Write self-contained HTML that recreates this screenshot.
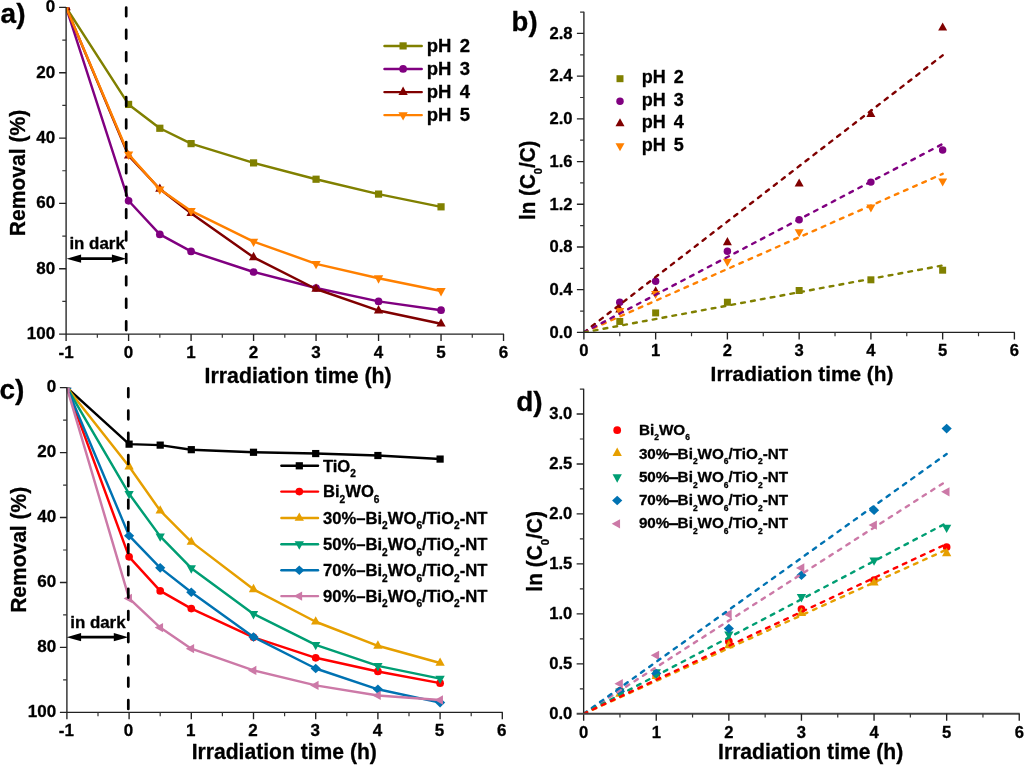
<!DOCTYPE html>
<html><head><meta charset="utf-8"><title>chart</title>
<style>html,body{margin:0;padding:0;background:#fff}svg{display:block;will-change:transform}text{font-family:"Liberation Sans",sans-serif;font-weight:bold;fill:#000;stroke:#000;stroke-width:0.3px;stroke-linejoin:round}</style>
</head><body>
<svg width="1024" height="765" viewBox="0 0 1024 765">
<rect width="1024" height="765" fill="#fff"/>
<g id="pa">
<clipPath id="ca"><rect x="66.1" y="7.4" width="457.43" height="326.66"/></clipPath>
<g clip-path="url(#ca)">
<polyline points="66.1,7.4 128.59,104.42 159.83,128.26 191.08,143.62 253.57,162.89 316.06,179.22 378.55,194.09 441.04,206.83" fill="none" stroke="#808000" stroke-width="2.45" stroke-linejoin="round" stroke-linecap="round"/>
<rect x="62.5" y="3.8" width="7.2" height="7.2" fill="#808000"/>
<rect x="124.99" y="100.82" width="7.2" height="7.2" fill="#808000"/>
<rect x="156.23" y="124.66" width="7.2" height="7.2" fill="#808000"/>
<rect x="187.48" y="140.02" width="7.2" height="7.2" fill="#808000"/>
<rect x="249.97" y="159.29" width="7.2" height="7.2" fill="#808000"/>
<rect x="312.46" y="175.62" width="7.2" height="7.2" fill="#808000"/>
<rect x="374.95" y="190.49" width="7.2" height="7.2" fill="#808000"/>
<rect x="437.44" y="203.23" width="7.2" height="7.2" fill="#808000"/>
<polyline points="66.1,7.4 128.59,200.78 159.83,234.43 191.08,251.42 253.57,271.99 316.06,288 378.55,301.39 441.04,310.21" fill="none" stroke="#800080" stroke-width="2.45" stroke-linejoin="round" stroke-linecap="round"/>
<circle cx="66.1" cy="7.4" r="3.85" fill="#800080"/>
<circle cx="128.59" cy="200.78" r="3.85" fill="#800080"/>
<circle cx="159.83" cy="234.43" r="3.85" fill="#800080"/>
<circle cx="191.08" cy="251.42" r="3.85" fill="#800080"/>
<circle cx="253.57" cy="271.99" r="3.85" fill="#800080"/>
<circle cx="316.06" cy="288" r="3.85" fill="#800080"/>
<circle cx="378.55" cy="301.39" r="3.85" fill="#800080"/>
<circle cx="441.04" cy="310.21" r="3.85" fill="#800080"/>
<polyline points="66.1,7.4 128.59,155.7 159.83,189.02 191.08,213.2 253.57,257.29 316.06,288.98 378.55,310.54 441.04,323.77" fill="none" stroke="#800000" stroke-width="2.45" stroke-linejoin="round" stroke-linecap="round"/>
<path d="M66.1 1.9L70.75 10.25L61.45 10.25Z" fill="#800000"/>
<path d="M128.59 150.2L133.24 158.55L123.94 158.55Z" fill="#800000"/>
<path d="M159.83 183.52L164.48 191.87L155.18 191.87Z" fill="#800000"/>
<path d="M191.08 207.7L195.73 216.05L186.43 216.05Z" fill="#800000"/>
<path d="M253.57 251.79L258.22 260.14L248.92 260.14Z" fill="#800000"/>
<path d="M316.06 283.48L320.71 291.83L311.41 291.83Z" fill="#800000"/>
<path d="M378.55 305.04L383.2 313.39L373.9 313.39Z" fill="#800000"/>
<path d="M441.04 318.27L445.69 326.62L436.39 326.62Z" fill="#800000"/>
<polyline points="66.1,7.4 128.59,154.4 159.83,189.35 191.08,210.91 253.57,241.62 316.06,263.83 378.55,278.2 441.04,290.94" fill="none" stroke="#FF8000" stroke-width="2.45" stroke-linejoin="round" stroke-linecap="round"/>
<path d="M66.1 12.9L70.75 4.55L61.45 4.55Z" fill="#FF8000"/>
<path d="M128.59 159.9L133.24 151.55L123.94 151.55Z" fill="#FF8000"/>
<path d="M159.83 194.85L164.48 186.5L155.18 186.5Z" fill="#FF8000"/>
<path d="M191.08 216.41L195.73 208.06L186.43 208.06Z" fill="#FF8000"/>
<path d="M253.57 247.12L258.22 238.77L248.92 238.77Z" fill="#FF8000"/>
<path d="M316.06 269.33L320.71 260.98L311.41 260.98Z" fill="#FF8000"/>
<path d="M378.55 283.7L383.2 275.35L373.9 275.35Z" fill="#FF8000"/>
<path d="M441.04 296.44L445.69 288.09L436.39 288.09Z" fill="#FF8000"/>
</g>
<path d="M66.1 7V341.06" fill="none" stroke="#222" stroke-width="1.35"/>
<path d="M59.1 334.06H504.03" fill="none" stroke="#222" stroke-width="1.35"/>
<path d="M128.59 334.06v7M191.08 334.06v7M253.57 334.06v7M316.06 334.06v7M378.55 334.06v7M441.04 334.06v7M503.53 334.06v7M66.1 7.4h-7M66.1 72.73h-7M66.1 138.06h-7M66.1 203.4h-7M66.1 268.73h-7" fill="none" stroke="#222" stroke-width="1.35"/>
<path d="M97.34 334.06v3.8M159.83 334.06v3.8M222.32 334.06v3.8M284.81 334.06v3.8M347.3 334.06v3.8M409.79 334.06v3.8M472.28 334.06v3.8M66.1 40.07h-3.8M66.1 105.4h-3.8M66.1 170.73h-3.8M66.1 236.06h-3.8M66.1 301.39h-3.8" fill="none" stroke="#333" stroke-width="1.2"/>
<text x="66.1" y="357.76" font-size="17" text-anchor="middle" >-1</text>
<text x="128.59" y="357.76" font-size="17" text-anchor="middle" >0</text>
<text x="191.08" y="357.76" font-size="17" text-anchor="middle" >1</text>
<text x="253.57" y="357.76" font-size="17" text-anchor="middle" >2</text>
<text x="316.06" y="357.76" font-size="17" text-anchor="middle" >3</text>
<text x="378.55" y="357.76" font-size="17" text-anchor="middle" >4</text>
<text x="441.04" y="357.76" font-size="17" text-anchor="middle" >5</text>
<text x="503.53" y="357.76" font-size="17" text-anchor="middle" >6</text>
<text x="55.1" y="12.2" font-size="17" text-anchor="end" >0</text>
<text x="55.1" y="77.53" font-size="17" text-anchor="end" >20</text>
<text x="55.1" y="142.86" font-size="17" text-anchor="end" >40</text>
<text x="55.1" y="208.2" font-size="17" text-anchor="end" >60</text>
<text x="55.1" y="273.53" font-size="17" text-anchor="end" >80</text>
<text x="55.1" y="338.86" font-size="17" text-anchor="end" >100</text>
<path d="M126.2 7.5V334.06" stroke="#000" stroke-width="2.7" stroke-dasharray="8.7 13.72" stroke-linecap="round" fill="none"/>
<path d="M384.5 45.9H421.7" stroke="#808000" stroke-width="2.45" stroke-linecap="round"/>
<rect x="399.5" y="42.3" width="7.2" height="7.2" fill="#808000"/>
<text x="426.7" y="52.1" font-size="18.5" text-anchor="start" >pH</text>
<text x="465" y="52.1" font-size="18.5" text-anchor="middle" >2</text>
<path d="M384.5 68.9H421.7" stroke="#800080" stroke-width="2.45" stroke-linecap="round"/>
<circle cx="403.1" cy="68.9" r="3.85" fill="#800080"/>
<text x="426.7" y="75.1" font-size="18.5" text-anchor="start" >pH</text>
<text x="465" y="75.1" font-size="18.5" text-anchor="middle" >3</text>
<path d="M384.5 92.1H421.7" stroke="#800000" stroke-width="2.45" stroke-linecap="round"/>
<path d="M403.1 86.6L407.75 94.95L398.45 94.95Z" fill="#800000"/>
<text x="426.7" y="98.3" font-size="18.5" text-anchor="start" >pH</text>
<text x="465" y="98.3" font-size="18.5" text-anchor="middle" >4</text>
<path d="M384.5 115.1H421.7" stroke="#FF8000" stroke-width="2.45" stroke-linecap="round"/>
<path d="M403.1 120.6L407.75 112.25L398.45 112.25Z" fill="#FF8000"/>
<text x="426.7" y="121.3" font-size="18.5" text-anchor="start" >pH</text>
<text x="465" y="121.3" font-size="18.5" text-anchor="middle" >5</text>
<path d="M74.6 258.7H118.4" stroke="#000" stroke-width="2.7" fill="none"/><path d="M66.6 258.7l14.5 -4.1v8.2zM126.4 258.7l-14.5 -4.1v8.2z" fill="#000"/><text x="69.4" y="248.5" font-size="15.8" text-anchor="start" textLength="55.4" lengthAdjust="spacingAndGlyphs">in dark</text>
<text x="298.1" y="383" font-size="21.5" text-anchor="middle" textLength="187" lengthAdjust="spacingAndGlyphs">Irradiation time (h)</text>
<text transform="translate(25.2 173) rotate(-90)" font-size="21.5" text-anchor="middle" textLength="126.3" lengthAdjust="spacingAndGlyphs">Removal (%)</text>
<text x="0.6" y="22.8" font-size="28" text-anchor="start" >a)</text>
</g>
<g id="pb">
<clipPath id="cb"><rect x="583.9" y="12.09" width="450.5" height="320.31"/></clipPath>
<g clip-path="url(#cb)">
<rect x="616.28" y="317.96" width="6.98" height="6.98" fill="#808000"/>
<rect x="652.16" y="309.42" width="6.98" height="6.98" fill="#808000"/>
<rect x="723.91" y="298.74" width="6.98" height="6.98" fill="#808000"/>
<rect x="795.66" y="287" width="6.98" height="6.98" fill="#808000"/>
<rect x="867.41" y="276.32" width="6.98" height="6.98" fill="#808000"/>
<rect x="939.16" y="266.71" width="6.98" height="6.98" fill="#808000"/>
<circle cx="619.77" cy="302.24" r="3.73" fill="#800080"/>
<circle cx="655.65" cy="281.31" r="3.73" fill="#800080"/>
<circle cx="727.4" cy="251.31" r="3.73" fill="#800080"/>
<circle cx="799.15" cy="219.7" r="3.73" fill="#800080"/>
<circle cx="870.9" cy="182.12" r="3.73" fill="#800080"/>
<circle cx="942.65" cy="150.09" r="3.73" fill="#800080"/>
<path d="M619.77 304.38L624.29 312.48L615.26 312.48Z" fill="#800000"/>
<path d="M655.65 286.22L660.16 294.32L651.14 294.32Z" fill="#800000"/>
<path d="M727.4 237.11L731.91 245.21L722.89 245.21Z" fill="#800000"/>
<path d="M799.15 178.39L803.66 186.49L794.64 186.49Z" fill="#800000"/>
<path d="M870.9 108.99L875.41 117.09L866.39 117.09Z" fill="#800000"/>
<path d="M942.65 22.5L947.16 30.6L938.14 30.6Z" fill="#800000"/>
<path d="M619.77 316.11L624.29 308.01L615.26 308.01Z" fill="#FF8000"/>
<path d="M655.65 299.03L660.16 290.93L651.14 290.93Z" fill="#FF8000"/>
<path d="M727.4 266.79L731.91 258.69L722.89 258.69Z" fill="#FF8000"/>
<path d="M799.15 237.32L803.66 229.22L794.64 229.22Z" fill="#FF8000"/>
<path d="M870.9 212.55L875.41 204.45L866.39 204.45Z" fill="#FF8000"/>
<path d="M942.65 186.49L947.16 178.4L938.14 178.4Z" fill="#FF8000"/>
<path d="M583.9 332.4L942.65 173.85" stroke="#FF8000" stroke-width="2.4" stroke-dasharray="3.8 6.2" stroke-linecap="round" fill="none"/>
<path d="M583.9 332.4L942.65 55.33" stroke="#800000" stroke-width="2.4" stroke-dasharray="3.8 6.2" stroke-linecap="round" fill="none"/>
<path d="M583.9 332.4L942.65 143.95" stroke="#800080" stroke-width="2.4" stroke-dasharray="3.8 6.2" stroke-linecap="round" fill="none"/>
<path d="M583.9 332.4L942.65 265.46" stroke="#808000" stroke-width="2.4" stroke-dasharray="3.8 6.2" stroke-linecap="round" fill="none"/>
</g>
<path d="M583.9 11.69V339.4" fill="none" stroke="#222" stroke-width="1.35"/>
<path d="M576.9 332.4H1014.9" fill="none" stroke="#222" stroke-width="1.35"/>
<path d="M655.65 332.4v7M727.4 332.4v7M799.15 332.4v7M870.9 332.4v7M942.65 332.4v7M1014.4 332.4v7M583.9 289.69h-7M583.9 246.98h-7M583.9 204.28h-7M583.9 161.57h-7M583.9 118.86h-7M583.9 76.15h-7M583.9 33.44h-7" fill="none" stroke="#222" stroke-width="1.35"/>
<path d="M619.77 332.4v3.8M691.52 332.4v3.8M763.27 332.4v3.8M835.02 332.4v3.8M906.77 332.4v3.8M978.52 332.4v3.8M583.9 311.05h-3.8M583.9 268.34h-3.8M583.9 225.63h-3.8M583.9 182.92h-3.8M583.9 140.21h-3.8M583.9 97.51h-3.8M583.9 54.8h-3.8M583.9 12.09h-3.8" fill="none" stroke="#333" stroke-width="1.2"/>
<text x="583.9" y="356.1" font-size="16.6" text-anchor="middle" >0</text>
<text x="655.65" y="356.1" font-size="16.6" text-anchor="middle" >1</text>
<text x="727.4" y="356.1" font-size="16.6" text-anchor="middle" >2</text>
<text x="799.15" y="356.1" font-size="16.6" text-anchor="middle" >3</text>
<text x="870.9" y="356.1" font-size="16.6" text-anchor="middle" >4</text>
<text x="942.65" y="356.1" font-size="16.6" text-anchor="middle" >5</text>
<text x="1014.4" y="356.1" font-size="16.6" text-anchor="middle" >6</text>
<text x="572.5" y="337.7" font-size="16.6" text-anchor="end" >0.0</text>
<text x="572.5" y="294.99" font-size="16.6" text-anchor="end" >0.4</text>
<text x="572.5" y="252.28" font-size="16.6" text-anchor="end" >0.8</text>
<text x="572.5" y="209.58" font-size="16.6" text-anchor="end" >1.2</text>
<text x="572.5" y="166.87" font-size="16.6" text-anchor="end" >1.6</text>
<text x="572.5" y="124.16" font-size="16.6" text-anchor="end" >2.0</text>
<text x="572.5" y="81.45" font-size="16.6" text-anchor="end" >2.4</text>
<text x="572.5" y="38.74" font-size="16.6" text-anchor="end" >2.8</text>
<rect x="616.51" y="75.21" width="6.98" height="6.98" fill="#808000"/>
<text x="641.8" y="83.2" font-size="18" text-anchor="start" >pH</text>
<text x="678.7" y="83.2" font-size="18" text-anchor="middle" >2</text>
<circle cx="620" cy="101.2" r="3.73" fill="#800080"/>
<text x="641.8" y="105.7" font-size="18" text-anchor="start" >pH</text>
<text x="678.7" y="105.7" font-size="18" text-anchor="middle" >3</text>
<path d="M620 118.17L624.51 126.26L615.49 126.26Z" fill="#800000"/>
<text x="641.8" y="128" font-size="18" text-anchor="start" >pH</text>
<text x="678.7" y="128" font-size="18" text-anchor="middle" >4</text>
<path d="M620 151.34L624.51 143.24L615.49 143.24Z" fill="#FF8000"/>
<text x="641.8" y="150.5" font-size="18" text-anchor="start" >pH</text>
<text x="678.7" y="150.5" font-size="18" text-anchor="middle" >5</text>
<text x="802" y="380.7" font-size="21" text-anchor="middle" textLength="182.8" lengthAdjust="spacingAndGlyphs">Irradiation time (h)</text>
<text transform="translate(535.0 180.3) rotate(-90)" font-size="21.5" text-anchor="middle" textLength="79.5" lengthAdjust="spacingAndGlyphs">ln (C<tspan font-size="11.5" dy="7.0">0</tspan><tspan dy="-7.0">/C)</tspan></text>
<text x="511.6" y="30.7" font-size="27.5" text-anchor="start" >b)</text>
</g>
<g id="pc">
<clipPath id="cc"><rect x="66.9" y="387.65" width="455.4" height="324.7"/></clipPath>
<g clip-path="url(#cc)">
<polyline points="66.9,387.65 129.1,444.15 160.2,445.12 191.3,449.67 253.5,452.27 315.7,453.56 377.9,455.51 440.1,459.08" fill="none" stroke="#000000" stroke-width="2.45" stroke-linejoin="round" stroke-linecap="round"/>
<rect x="63.3" y="384.05" width="7.2" height="7.2" fill="#000000"/>
<rect x="125.5" y="440.55" width="7.2" height="7.2" fill="#000000"/>
<rect x="156.6" y="441.52" width="7.2" height="7.2" fill="#000000"/>
<rect x="187.7" y="446.07" width="7.2" height="7.2" fill="#000000"/>
<rect x="249.9" y="448.67" width="7.2" height="7.2" fill="#000000"/>
<rect x="312.1" y="449.96" width="7.2" height="7.2" fill="#000000"/>
<rect x="374.3" y="451.91" width="7.2" height="7.2" fill="#000000"/>
<rect x="436.5" y="455.48" width="7.2" height="7.2" fill="#000000"/>
<polyline points="66.9,387.65 129.1,556.82 160.2,590.91 191.3,608.61 253.5,637.34 315.7,657.8 377.9,671.44 440.1,683.13" fill="none" stroke="#FF0000" stroke-width="2.45" stroke-linejoin="round" stroke-linecap="round"/>
<circle cx="66.9" cy="387.65" r="3.85" fill="#FF0000"/>
<circle cx="129.1" cy="556.82" r="3.85" fill="#FF0000"/>
<circle cx="160.2" cy="590.91" r="3.85" fill="#FF0000"/>
<circle cx="191.3" cy="608.61" r="3.85" fill="#FF0000"/>
<circle cx="253.5" cy="637.34" r="3.85" fill="#FF0000"/>
<circle cx="315.7" cy="657.8" r="3.85" fill="#FF0000"/>
<circle cx="377.9" cy="671.44" r="3.85" fill="#FF0000"/>
<circle cx="440.1" cy="683.13" r="3.85" fill="#FF0000"/>
<polyline points="66.9,387.65 129.1,466.55 160.2,510.71 191.3,541.88 253.5,589.29 315.7,621.76 377.9,645.79 440.1,663" fill="none" stroke="#E69F00" stroke-width="2.45" stroke-linejoin="round" stroke-linecap="round"/>
<path d="M66.9 382.15L71.55 390.5L62.25 390.5Z" fill="#E69F00"/>
<path d="M129.1 461.05L133.75 469.4L124.45 469.4Z" fill="#E69F00"/>
<path d="M160.2 505.21L164.85 513.56L155.55 513.56Z" fill="#E69F00"/>
<path d="M191.3 536.38L195.95 544.73L186.65 544.73Z" fill="#E69F00"/>
<path d="M253.5 583.79L258.15 592.14L248.85 592.14Z" fill="#E69F00"/>
<path d="M315.7 616.26L320.35 624.61L311.05 624.61Z" fill="#E69F00"/>
<path d="M377.9 640.29L382.55 648.64L373.25 648.64Z" fill="#E69F00"/>
<path d="M440.1 657.5L444.75 665.85L435.45 665.85Z" fill="#E69F00"/>
<polyline points="66.9,387.65 129.1,493.83 160.2,536.36 191.3,568.18 253.5,613.97 315.7,644.81 377.9,665.92 440.1,678.58" fill="none" stroke="#009E73" stroke-width="2.45" stroke-linejoin="round" stroke-linecap="round"/>
<path d="M66.9 393.15L71.55 384.8L62.25 384.8Z" fill="#009E73"/>
<path d="M129.1 499.33L133.75 490.98L124.45 490.98Z" fill="#009E73"/>
<path d="M160.2 541.86L164.85 533.51L155.55 533.51Z" fill="#009E73"/>
<path d="M191.3 573.68L195.95 565.33L186.65 565.33Z" fill="#009E73"/>
<path d="M253.5 619.47L258.15 611.12L248.85 611.12Z" fill="#009E73"/>
<path d="M315.7 650.31L320.35 641.96L311.05 641.96Z" fill="#009E73"/>
<path d="M377.9 671.42L382.55 663.07L373.25 663.07Z" fill="#009E73"/>
<path d="M440.1 684.08L444.75 675.73L435.45 675.73Z" fill="#009E73"/>
<polyline points="66.9,387.65 129.1,535.71 160.2,567.86 191.3,592.21 253.5,637.02 315.7,668.52 377.9,689.3 440.1,702.61" fill="none" stroke="#0072B2" stroke-width="2.45" stroke-linejoin="round" stroke-linecap="round"/>
<path d="M66.9 382.85L72 387.65L66.9 392.45L61.8 387.65Z" fill="#0072B2"/>
<path d="M129.1 530.91L134.2 535.71L129.1 540.51L124 535.71Z" fill="#0072B2"/>
<path d="M160.2 563.06L165.3 567.86L160.2 572.66L155.1 567.86Z" fill="#0072B2"/>
<path d="M191.3 587.41L196.4 592.21L191.3 597.01L186.2 592.21Z" fill="#0072B2"/>
<path d="M253.5 632.22L258.6 637.02L253.5 641.82L248.4 637.02Z" fill="#0072B2"/>
<path d="M315.7 663.72L320.8 668.52L315.7 673.32L310.6 668.52Z" fill="#0072B2"/>
<path d="M377.9 684.5L383 689.3L377.9 694.1L372.8 689.3Z" fill="#0072B2"/>
<path d="M440.1 697.81L445.2 702.61L440.1 707.41L435 702.61Z" fill="#0072B2"/>
<polyline points="66.9,387.65 129.1,598.38 160.2,627.6 191.3,648.71 253.5,670.46 315.7,685.4 377.9,695.47 440.1,700.01" fill="none" stroke="#CC79A7" stroke-width="2.45" stroke-linejoin="round" stroke-linecap="round"/>
<path d="M61.4 387.65L69.75 383L69.75 392.3Z" fill="#CC79A7"/>
<path d="M123.6 598.38L131.95 593.73L131.95 603.03Z" fill="#CC79A7"/>
<path d="M154.7 627.6L163.05 622.95L163.05 632.25Z" fill="#CC79A7"/>
<path d="M185.8 648.71L194.15 644.06L194.15 653.36Z" fill="#CC79A7"/>
<path d="M248 670.46L256.35 665.81L256.35 675.11Z" fill="#CC79A7"/>
<path d="M310.2 685.4L318.55 680.75L318.55 690.05Z" fill="#CC79A7"/>
<path d="M372.4 695.47L380.75 690.82L380.75 700.12Z" fill="#CC79A7"/>
<path d="M434.6 700.01L442.95 695.36L442.95 704.66Z" fill="#CC79A7"/>
</g>
<path d="M66.9 387.25V719.35" fill="none" stroke="#222" stroke-width="1.35"/>
<path d="M59.9 712.35H502.8" fill="none" stroke="#222" stroke-width="1.35"/>
<path d="M129.1 712.35v7M191.3 712.35v7M253.5 712.35v7M315.7 712.35v7M377.9 712.35v7M440.1 712.35v7M502.3 712.35v7M66.9 387.65h-7M66.9 452.59h-7M66.9 517.53h-7M66.9 582.47h-7M66.9 647.41h-7" fill="none" stroke="#222" stroke-width="1.35"/>
<path d="M98 712.35v3.8M160.2 712.35v3.8M222.4 712.35v3.8M284.6 712.35v3.8M346.8 712.35v3.8M409 712.35v3.8M471.2 712.35v3.8M66.9 420.12h-3.8M66.9 485.06h-3.8M66.9 550h-3.8M66.9 614.94h-3.8M66.9 679.88h-3.8" fill="none" stroke="#333" stroke-width="1.2"/>
<text x="66.4" y="736.05" font-size="17" text-anchor="middle" >-1</text>
<text x="128.6" y="736.05" font-size="17" text-anchor="middle" >0</text>
<text x="190.8" y="736.05" font-size="17" text-anchor="middle" >1</text>
<text x="253" y="736.05" font-size="17" text-anchor="middle" >2</text>
<text x="315.2" y="736.05" font-size="17" text-anchor="middle" >3</text>
<text x="377.4" y="736.05" font-size="17" text-anchor="middle" >4</text>
<text x="439.6" y="736.05" font-size="17" text-anchor="middle" >5</text>
<text x="501.8" y="736.05" font-size="17" text-anchor="middle" >6</text>
<text x="56.2" y="392.45" font-size="17" text-anchor="end" >0</text>
<text x="56.2" y="457.39" font-size="17" text-anchor="end" >20</text>
<text x="56.2" y="522.33" font-size="17" text-anchor="end" >40</text>
<text x="56.2" y="587.27" font-size="17" text-anchor="end" >60</text>
<text x="56.2" y="652.21" font-size="17" text-anchor="end" >80</text>
<text x="56.2" y="717.15" font-size="17" text-anchor="end" >100</text>
<path d="M128.3 388.4V712.35" stroke="#000" stroke-width="2.7" stroke-dasharray="8.7 13.57" stroke-linecap="round" fill="none"/>
<path d="M281.4 465.8H318" stroke="#000000" stroke-width="2.45" stroke-linecap="round"/>
<rect x="295.7" y="462.2" width="7.2" height="7.2" fill="#000000"/>
<text x="322.9" y="471.6" font-size="16.4" text-anchor="start" textLength="33" lengthAdjust="spacingAndGlyphs">TiO<tspan font-size="10" dy="5.5">2</tspan></text>
<path d="M281.4 491.6H318" stroke="#FF0000" stroke-width="2.45" stroke-linecap="round"/>
<circle cx="299.3" cy="491.6" r="3.85" fill="#FF0000"/>
<text x="322.9" y="497.4" font-size="16.4" text-anchor="start" textLength="56.6" lengthAdjust="spacingAndGlyphs">Bi<tspan font-size="10" dy="5.5">2</tspan><tspan dy="-5.5">WO</tspan><tspan font-size="10" dy="5.5">6</tspan></text>
<path d="M281.4 517.9H318" stroke="#E69F00" stroke-width="2.45" stroke-linecap="round"/>
<path d="M299.3 512.4L303.95 520.75L294.65 520.75Z" fill="#E69F00"/>
<text x="322.9" y="523.7" font-size="16.4" text-anchor="start" textLength="164.6" lengthAdjust="spacingAndGlyphs">30%–Bi<tspan font-size="10" dy="5.5">2</tspan><tspan dy="-5.5">WO</tspan><tspan font-size="10" dy="5.5">6</tspan><tspan dy="-5.5">/TiO</tspan><tspan font-size="10" dy="5.5">2</tspan><tspan dy="-5.5">-NT</tspan></text>
<path d="M281.4 544.2H318" stroke="#009E73" stroke-width="2.45" stroke-linecap="round"/>
<path d="M299.3 549.7L303.95 541.35L294.65 541.35Z" fill="#009E73"/>
<text x="322.9" y="550" font-size="16.4" text-anchor="start" textLength="164.6" lengthAdjust="spacingAndGlyphs">50%–Bi<tspan font-size="10" dy="5.5">2</tspan><tspan dy="-5.5">WO</tspan><tspan font-size="10" dy="5.5">6</tspan><tspan dy="-5.5">/TiO</tspan><tspan font-size="10" dy="5.5">2</tspan><tspan dy="-5.5">-NT</tspan></text>
<path d="M281.4 570.2H318" stroke="#0072B2" stroke-width="2.45" stroke-linecap="round"/>
<path d="M299.3 565.4L304.4 570.2L299.3 575L294.2 570.2Z" fill="#0072B2"/>
<text x="322.9" y="576" font-size="16.4" text-anchor="start" textLength="164.6" lengthAdjust="spacingAndGlyphs">70%–Bi<tspan font-size="10" dy="5.5">2</tspan><tspan dy="-5.5">WO</tspan><tspan font-size="10" dy="5.5">6</tspan><tspan dy="-5.5">/TiO</tspan><tspan font-size="10" dy="5.5">2</tspan><tspan dy="-5.5">-NT</tspan></text>
<path d="M281.4 596.1H318" stroke="#CC79A7" stroke-width="2.45" stroke-linecap="round"/>
<path d="M293.8 596.1L302.15 591.45L302.15 600.75Z" fill="#CC79A7"/>
<text x="322.9" y="601.9" font-size="16.4" text-anchor="start" textLength="164.6" lengthAdjust="spacingAndGlyphs">90%–Bi<tspan font-size="10" dy="5.5">2</tspan><tspan dy="-5.5">WO</tspan><tspan font-size="10" dy="5.5">6</tspan><tspan dy="-5.5">/TiO</tspan><tspan font-size="10" dy="5.5">2</tspan><tspan dy="-5.5">-NT</tspan></text>
<path d="M74.6 637.2H120.3" stroke="#000" stroke-width="2.7" fill="none"/><path d="M66.6 637.2l14.5 -4.1v8.2zM128.3 637.2l-14.5 -4.1v8.2z" fill="#000"/><text x="70.2" y="627.5" font-size="15.8" text-anchor="start" textLength="55.4" lengthAdjust="spacingAndGlyphs">in dark</text>
<text x="284.3" y="758.5" font-size="21.2" text-anchor="middle" textLength="185.2" lengthAdjust="spacingAndGlyphs">Irradiation time (h)</text>
<text transform="translate(25.5 549.8) rotate(-90)" font-size="21.5" text-anchor="middle" textLength="126" lengthAdjust="spacingAndGlyphs">Removal (%)</text>
<text x="-0.5" y="399.2" font-size="28" text-anchor="start" >c)</text>
</g>
<g id="pd">
<clipPath id="cd"><rect x="583.65" y="389.03" width="455.6" height="324.77"/></clipPath>
<g clip-path="url(#cd)">
<circle cx="619.95" cy="690.82" r="3.85" fill="#FF0000"/>
<circle cx="656.25" cy="675.63" r="3.85" fill="#FF0000"/>
<circle cx="728.85" cy="641.4" r="3.85" fill="#FF0000"/>
<circle cx="801.45" cy="609.07" r="3.85" fill="#FF0000"/>
<circle cx="874.05" cy="580.19" r="3.85" fill="#FF0000"/>
<circle cx="946.65" cy="547.06" r="3.85" fill="#FF0000"/>
<path d="M619.95 688.31L624.6 696.66L615.3 696.66Z" fill="#E69F00"/>
<path d="M656.25 670.73L660.9 679.08L651.6 679.08Z" fill="#E69F00"/>
<path d="M728.85 639.85L733.5 648.2L724.2 648.2Z" fill="#E69F00"/>
<path d="M801.45 607.57L806.1 615.92L796.8 615.92Z" fill="#E69F00"/>
<path d="M874.05 577.19L878.7 585.54L869.4 585.54Z" fill="#E69F00"/>
<path d="M946.65 547.81L951.3 556.16L942 556.16Z" fill="#E69F00"/>
<path d="M619.95 696.82L624.6 688.47L615.3 688.47Z" fill="#009E73"/>
<path d="M656.25 677.53L660.9 669.18L651.6 669.18Z" fill="#009E73"/>
<path d="M728.85 639.86L733.5 631.51L724.2 631.51Z" fill="#009E73"/>
<path d="M801.45 602.38L806.1 594.03L796.8 594.03Z" fill="#009E73"/>
<path d="M874.05 565.76L878.7 557.41L869.4 557.41Z" fill="#009E73"/>
<path d="M946.65 533L951.3 524.65L942 524.65Z" fill="#009E73"/>
<path d="M619.95 686.47L625.05 691.27L619.95 696.07L614.85 691.27Z" fill="#0072B2"/>
<path d="M656.25 668.8L661.35 673.6L656.25 678.4L651.15 673.6Z" fill="#0072B2"/>
<path d="M728.85 623.8L733.95 628.6L728.85 633.4L723.75 628.6Z" fill="#0072B2"/>
<path d="M801.45 570.5L806.55 575.3L801.45 580.1L796.35 575.3Z" fill="#0072B2"/>
<path d="M874.05 505.34L879.15 510.14L874.05 514.94L868.95 510.14Z" fill="#0072B2"/>
<path d="M946.65 423.8L951.75 428.6L946.65 433.4L941.55 428.6Z" fill="#0072B2"/>
<path d="M614.45 683.72L622.8 679.07L622.8 688.37Z" fill="#CC79A7"/>
<path d="M650.75 655.34L659.1 650.69L659.1 659.99Z" fill="#CC79A7"/>
<path d="M723.35 614.17L731.7 609.52L731.7 618.82Z" fill="#CC79A7"/>
<path d="M795.95 567.9L804.3 563.25L804.3 572.55Z" fill="#CC79A7"/>
<path d="M868.55 525.03L876.9 520.38L876.9 529.68Z" fill="#CC79A7"/>
<path d="M941.15 491.8L949.5 487.15L949.5 496.45Z" fill="#CC79A7"/>
<path d="M583.65 713.8L946.65 480.96" stroke="#CC79A7" stroke-width="2.4" stroke-dasharray="3.8 6.27" stroke-linecap="round" fill="none"/>
<path d="M583.65 713.8L946.65 453.98" stroke="#0072B2" stroke-width="2.4" stroke-dasharray="3.8 6.27" stroke-linecap="round" fill="none"/>
<path d="M583.65 713.8L946.65 522.93" stroke="#009E73" stroke-width="2.4" stroke-dasharray="3.8 6.27" stroke-linecap="round" fill="none"/>
<path d="M583.65 713.8L946.65 549.62" stroke="#E69F00" stroke-width="2.4" stroke-dasharray="3.8 6.27" stroke-linecap="round" fill="none"/>
<path d="M583.65 713.8L946.65 543.92" stroke="#FF0000" stroke-width="2.4" stroke-dasharray="3.8 6.27" stroke-linecap="round" fill="none"/>
</g>
<path d="M583.65 388.63V720.8" fill="none" stroke="#222" stroke-width="1.35"/>
<path d="M576.65 713.8H1019.75" fill="none" stroke="#444" stroke-width="2.0"/>
<path d="M656.25 713.8v7M728.85 713.8v7M801.45 713.8v7M874.05 713.8v7M946.65 713.8v7M1019.25 713.8v7M583.65 663.83h-7M583.65 613.87h-7M583.65 563.9h-7M583.65 513.94h-7M583.65 463.97h-7M583.65 414.01h-7" fill="none" stroke="#222" stroke-width="1.35"/>
<path d="M619.95 713.8v3.8M692.55 713.8v3.8M765.15 713.8v3.8M837.75 713.8v3.8M910.35 713.8v3.8M982.95 713.8v3.8M583.65 688.82h-3.8M583.65 638.85h-3.8M583.65 588.89h-3.8M583.65 538.92h-3.8M583.65 488.96h-3.8M583.65 438.99h-3.8M583.65 389.03h-3.8" fill="none" stroke="#333" stroke-width="1.2"/>
<text x="583.65" y="737.5" font-size="16.6" text-anchor="middle" >0</text>
<text x="656.25" y="737.5" font-size="16.6" text-anchor="middle" >1</text>
<text x="728.85" y="737.5" font-size="16.6" text-anchor="middle" >2</text>
<text x="801.45" y="737.5" font-size="16.6" text-anchor="middle" >3</text>
<text x="874.05" y="737.5" font-size="16.6" text-anchor="middle" >4</text>
<text x="946.65" y="737.5" font-size="16.6" text-anchor="middle" >5</text>
<text x="1019.25" y="737.5" font-size="16.6" text-anchor="middle" >6</text>
<text x="572.25" y="718.6" font-size="16.6" text-anchor="end" >0.0</text>
<text x="572.25" y="668.63" font-size="16.6" text-anchor="end" >0.5</text>
<text x="572.25" y="618.67" font-size="16.6" text-anchor="end" >1.0</text>
<text x="572.25" y="568.7" font-size="16.6" text-anchor="end" >1.5</text>
<text x="572.25" y="518.74" font-size="16.6" text-anchor="end" >2.0</text>
<text x="572.25" y="468.77" font-size="16.6" text-anchor="end" >2.5</text>
<text x="572.25" y="418.81" font-size="16.6" text-anchor="end" >3.0</text>
<circle cx="617.2" cy="430.2" r="3.85" fill="#FF0000"/>
<text x="638.9" y="434.6" font-size="14.8" text-anchor="start" textLength="51" lengthAdjust="spacingAndGlyphs">Bi<tspan font-size="8.2" dy="5.3">2</tspan><tspan dy="-5.3">WO</tspan><tspan font-size="8.2" dy="5.3">6</tspan></text>
<path d="M617.2 447.6L621.85 455.95L612.55 455.95Z" fill="#E69F00"/>
<text x="638.9" y="458.6" font-size="14.8" text-anchor="start" textLength="149.2" lengthAdjust="spacingAndGlyphs">30%<tspan font-size="17.5" dx="-0.9" dy="0.6">–</tspan><tspan dx="-0.9" dy="-0.6">Bi</tspan><tspan font-size="8.2" dy="5.3">2</tspan><tspan dy="-5.3">WO</tspan><tspan font-size="8.2" dy="5.3">6</tspan><tspan dy="-5.3">/TiO</tspan><tspan font-size="8.2" dy="5.3">2</tspan><tspan dy="-5.3">-NT</tspan></text>
<path d="M617.2 482.7L621.85 474.35L612.55 474.35Z" fill="#009E73"/>
<text x="638.9" y="482.2" font-size="14.8" text-anchor="start" textLength="149.2" lengthAdjust="spacingAndGlyphs">50%<tspan font-size="17.5" dx="-0.9" dy="0.6">–</tspan><tspan dx="-0.9" dy="-0.6">Bi</tspan><tspan font-size="8.2" dy="5.3">2</tspan><tspan dy="-5.3">WO</tspan><tspan font-size="8.2" dy="5.3">6</tspan><tspan dy="-5.3">/TiO</tspan><tspan font-size="8.2" dy="5.3">2</tspan><tspan dy="-5.3">-NT</tspan></text>
<path d="M617.2 495.7L622.3 500.5L617.2 505.3L612.1 500.5Z" fill="#0072B2"/>
<text x="638.9" y="505.3" font-size="14.8" text-anchor="start" textLength="149.2" lengthAdjust="spacingAndGlyphs">70%<tspan font-size="17.5" dx="-0.9" dy="0.6">–</tspan><tspan dx="-0.9" dy="-0.6">Bi</tspan><tspan font-size="8.2" dy="5.3">2</tspan><tspan dy="-5.3">WO</tspan><tspan font-size="8.2" dy="5.3">6</tspan><tspan dy="-5.3">/TiO</tspan><tspan font-size="8.2" dy="5.3">2</tspan><tspan dy="-5.3">-NT</tspan></text>
<path d="M611.7 523.8L620.05 519.15L620.05 528.45Z" fill="#CC79A7"/>
<text x="638.9" y="528.4" font-size="14.8" text-anchor="start" textLength="149.2" lengthAdjust="spacingAndGlyphs">90%<tspan font-size="17.5" dx="-0.9" dy="0.6">–</tspan><tspan dx="-0.9" dy="-0.6">Bi</tspan><tspan font-size="8.2" dy="5.3">2</tspan><tspan dy="-5.3">WO</tspan><tspan font-size="8.2" dy="5.3">6</tspan><tspan dy="-5.3">/TiO</tspan><tspan font-size="8.2" dy="5.3">2</tspan><tspan dy="-5.3">-NT</tspan></text>
<text x="810.7" y="759.3" font-size="21.2" text-anchor="middle" textLength="185.2" lengthAdjust="spacingAndGlyphs">Irradiation time (h)</text>
<text transform="translate(542.4 551.4) rotate(-90)" font-size="21.5" text-anchor="middle" textLength="80.5" lengthAdjust="spacingAndGlyphs">ln (C<tspan font-size="11.5" dy="7.0">0</tspan><tspan dy="-7.0">/C)</tspan></text>
<text x="516.2" y="410.6" font-size="28" text-anchor="start" >d)</text>
</g>
</svg>
</body></html>
